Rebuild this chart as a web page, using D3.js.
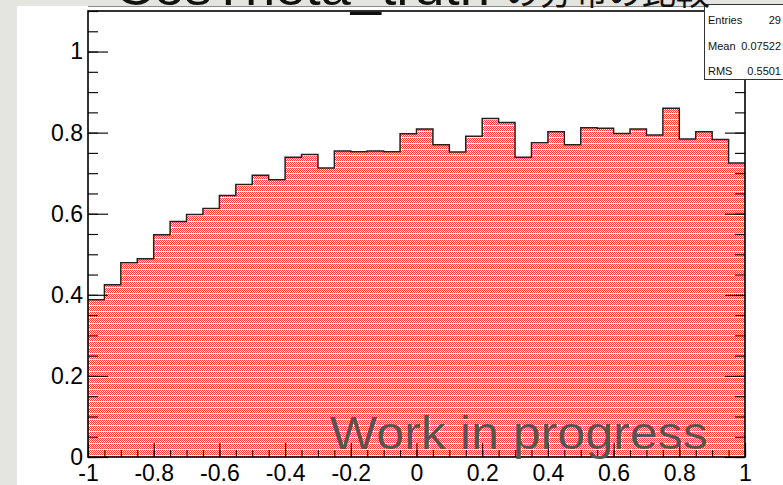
<!DOCTYPE html>
<html>
<head>
<meta charset="utf-8">
<script src="https://cdn.jsdelivr.net/npm/d3@7.9.0/dist/d3.min.js"></script>
<style>
  html, body { margin: 0; padding: 0; background: #e4e4e0; }
  svg { display: block; }
  text { font-family: "Liberation Sans", Arial, sans-serif; }
</style>
</head>
<body>
<svg id="chart" width="783" height="485"></svg>
<script>
// 40 bins of width 0.05 between -1 and 1
const binLow = -1;
const binWidth = 0.05;
const binValues = [
  0.388, 0.425, 0.479, 0.489, 0.548, 0.581, 0.598, 0.613, 0.645, 0.672,
  0.695, 0.684, 0.739, 0.746, 0.713, 0.755, 0.753, 0.755, 0.753, 0.797,
  0.809, 0.770, 0.752, 0.791, 0.835, 0.825, 0.739, 0.775, 0.802, 0.770,
  0.812, 0.811, 0.798, 0.809, 0.794, 0.860, 0.784, 0.802, 0.783, 0.725
];
const xMajorTicks = [-1, -0.8, -0.6, -0.4, -0.2, 0, 0.2, 0.4, 0.6, 0.8, 1];
const yMajorTicks = [0, 0.2, 0.4, 0.6, 0.8, 1];
const statsLabels = ['Entries', 'Mean', 'RMS'];
const statsValues = ['29', '0.07522', '0.5501'];
const titleMain = 'CosTheta_truth';
const titleJp = 'の分布の比較';
const watermark = 'Work in progress';

const svg = d3.select('#chart');

const x = d3.scaleLinear().domain([-1, 1]).range([88, 745]);
const y = d3.scaleLinear().domain([0, 1.1]).range([457, 11]);

const xMinor = d3.range(0, 41).map(i => +(binLow + i * binWidth).toFixed(2));
const yMinor = d3.range(0, 23).map(i => +(i * 0.05).toFixed(2));
const fmt = d => String(+(+d).toFixed(1));

// hatched red fill like the ROOT pattern (checker + light rows)
const defs = svg.append('defs');
const pat = defs.append('pattern')
  .attr('id', 'hatch')
  .attr('patternUnits', 'userSpaceOnUse')
  .attr('width', 2).attr('height', 6);
pat.append('rect').attr('width', 2).attr('height', 6)
  .attr('fill', '#ffeaea').attr('shape-rendering', 'crispEdges');
[[0, 0], [1, 1], [0, 2], [1, 3], [0, 4]].forEach(([px, py]) => {
  pat.append('rect').attr('x', px).attr('y', py).attr('width', 1).attr('height', 1)
    .attr('fill', '#ff3a3a').attr('shape-rendering', 'crispEdges');
});
pat.append('rect').attr('x', 0).attr('y', 5).attr('width', 2).attr('height', 1)
  .attr('fill', '#ffffff').attr('shape-rendering', 'crispEdges');

// white canvas on the grey slide
svg.append('rect')
  .attr('x', 17).attr('y', 6).attr('width', 800).attr('height', 500)
  .attr('fill', '#ffffff');
svg.append('line')
  .attr('x1', 88).attr('x2', 783).attr('y1', 6.5).attr('y2', 6.5)
  .attr('stroke', '#8a8a8a').attr('stroke-width', 1);

// histogram
const pts = binValues.map((v, i) => [binLow + i * binWidth, v]);
pts.push([1, binValues[binValues.length - 1]]);

svg.append('path')
  .datum(pts)
  .attr('fill', 'url(#hatch)')
  .attr('shape-rendering', 'crispEdges')
  .attr('d', d3.area().curve(d3.curveStepAfter)
    .x(d => x(d[0])).y0(y(0)).y1(d => y(d[1])));

svg.append('path')
  .datum(pts)
  .attr('fill', 'none')
  .attr('stroke', '#222')
  .attr('stroke-width', 1.5)
  .attr('d', d3.line().curve(d3.curveStepAfter)
    .x(d => x(d[0])).y(d => y(d[1])));

// axes
function styleAxis(g) {
  g.select('.domain').remove();
  g.selectAll('line').attr('stroke', '#111').attr('stroke-width', 1.2);
  g.selectAll('text').attr('fill', '#000').style('font-size', '23px')
    .style('font-family', '"Liberation Sans", Arial, sans-serif');
}

svg.append('g').attr('transform', `translate(0,${y(0)})`)
  .call(d3.axisBottom(x).tickValues(xMinor).tickSize(-7).tickFormat(''))
  .call(styleAxis);
svg.append('g').attr('transform', `translate(0,${y(0)})`)
  .call(d3.axisBottom(x).tickValues(xMajorTicks).tickSize(-14).tickPadding(7).tickFormat(fmt))
  .call(styleAxis)
  .call(g => g.selectAll('text').attr('y', 8));

svg.append('g').attr('transform', `translate(${x(-1)},0)`)
  .call(d3.axisLeft(y).tickValues(yMinor).tickSize(-10).tickFormat(''))
  .call(styleAxis);
svg.append('g').attr('transform', `translate(${x(-1)},0)`)
  .call(d3.axisLeft(y).tickValues(yMajorTicks).tickSize(-20).tickPadding(5).tickFormat(fmt))
  .call(styleAxis);

svg.append('g').attr('transform', `translate(${x(1)},0)`)
  .call(d3.axisRight(y).tickValues(yMinor).tickSize(-10).tickFormat(''))
  .call(styleAxis);
svg.append('g').attr('transform', `translate(${x(1)},0)`)
  .call(d3.axisRight(y).tickValues(yMajorTicks).tickSize(-20).tickFormat(''))
  .call(styleAxis);

// frame
svg.append('rect')
  .attr('x', x(-1)).attr('y', y(1.1))
  .attr('width', x(1) - x(-1)).attr('height', y(0) - y(1.1))
  .attr('fill', 'none').attr('stroke', '#000').attr('stroke-width', 1.6);

// watermark
svg.append('text')
  .attr('x', 330).attr('y', 449)
  .attr('fill', '#555')
  .attr('textLength', 378).attr('lengthAdjust', 'spacingAndGlyphs')
  .style('font-size', '47px')
  .text(watermark);

// stats box
svg.append('rect')
  .attr('x', 704.5).attr('y', 4.5).attr('width', 90).attr('height', 75)
  .attr('fill', '#fff').attr('stroke', '#333').attr('stroke-width', 1);
statsLabels.forEach((s, i) => {
  svg.append('text').attr('x', 708).attr('y', 24 + i * 25.5)
    .style('font-size', '11px').attr('fill', '#111').text(s);
  svg.append('text').attr('x', 781).attr('y', 24 + i * 25.5)
    .attr('text-anchor', 'end')
    .style('font-size', '11px').attr('fill', '#111').text(statsValues[i]);
});

// clipped title at the very top
svg.append('text')
  .attr('x', 115).attr('y', 5)
  .attr('textLength', 375).attr('lengthAdjust', 'spacingAndGlyphs')
  .style('font-size', '50px').attr('fill', '#111')
  .text(titleMain);
svg.append('text')
  .attr('x', 505).attr('y', 5)
  .attr('textLength', 205).attr('lengthAdjust', 'spacingAndGlyphs')
  .style('font-size', '36px').style('font-family', '"Noto Sans CJK JP", sans-serif')
  .attr('fill', '#111')
  .text(titleJp);
</script>
</body>
</html>
